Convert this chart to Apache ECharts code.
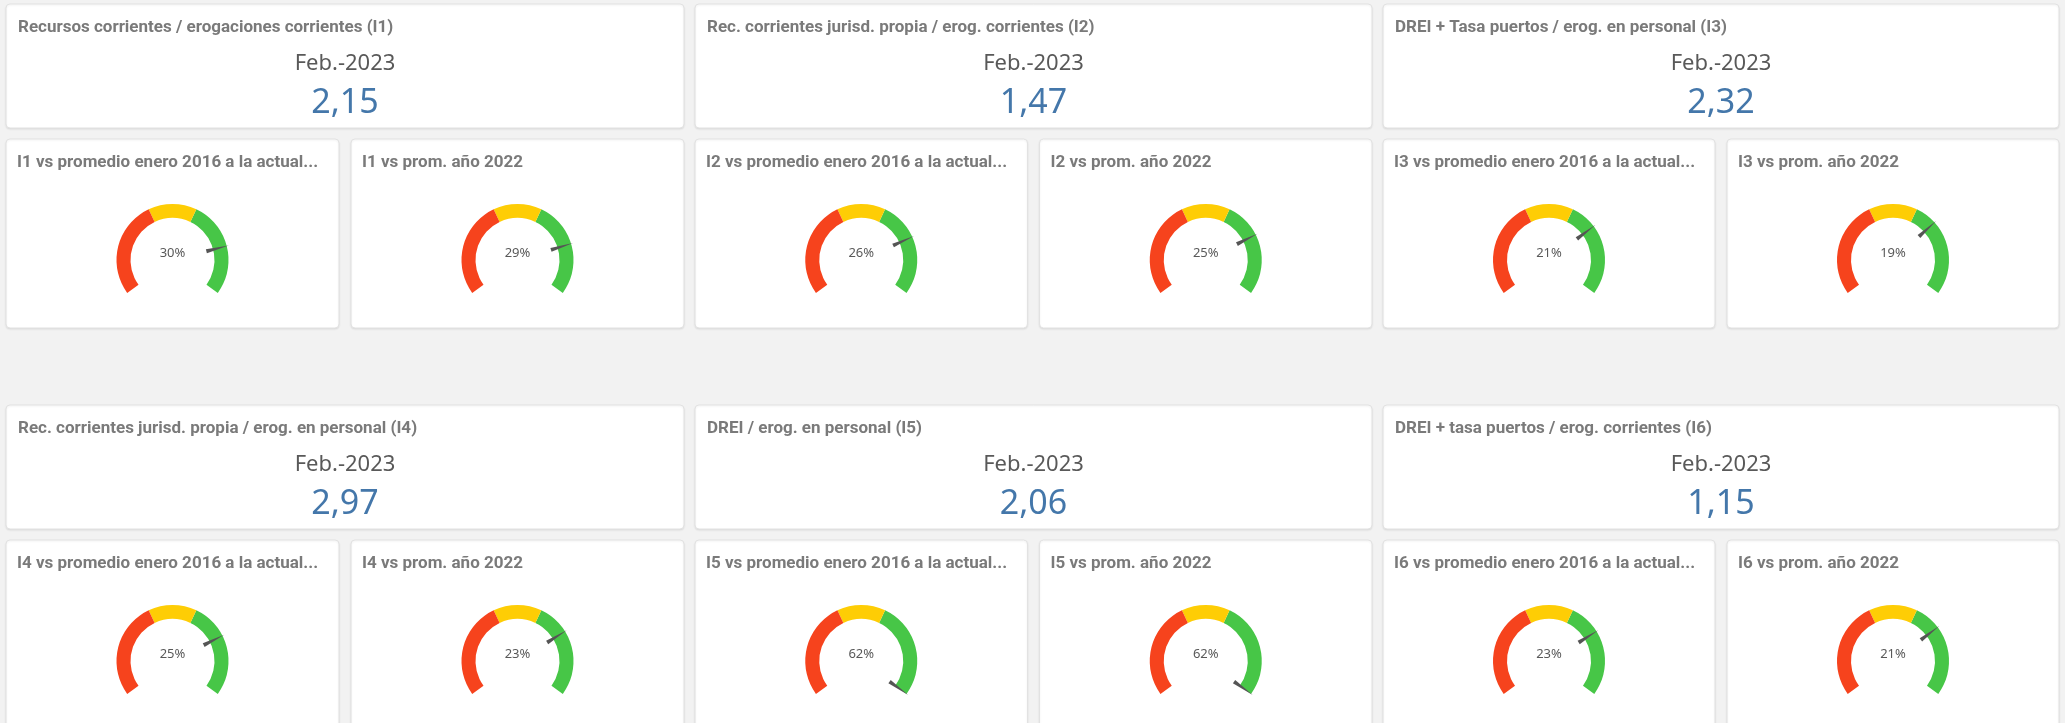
<!DOCTYPE html>
<html>
<head>
<meta charset="utf-8">
<script src="https://cdn.jsdelivr.net/npm/echarts@6/dist/echarts.min.js"></script>
<style>
  html, body { margin: 0; padding: 0; background: #f2f2f2; }
  #main { width: 2065px; height: 723px; }
</style>
</head>
<body>
<div id="main"></div>
<script>
    // indicadores (KPI)
    const kpiTitles = [
        'Recursos corrientes / erogaciones corrientes (I1)',
        'Rec. corrientes jurisd. propia / erog. corrientes (I2)',
        'DREI + Tasa puertos / erog. en personal (I3)',
        'Rec. corrientes jurisd. propia / erog. en personal (I4)',
        'DREI / erog. en personal (I5)',
        'DREI + tasa puertos / erog. corrientes (I6)'
    ];
    const kpiPeriod = 'Feb.-2023';
    const kpiValues = [2.15, 1.47, 2.32, 2.97, 2.06, 1.15];

    // velocimetros
    const gaugeTitlesHist = [
        'I1 vs promedio enero 2016 a la actual...',
        'I2 vs promedio enero 2016 a la actual...',
        'I3 vs promedio enero 2016 a la actual...',
        'I4 vs promedio enero 2016 a la actual...',
        'I5 vs promedio enero 2016 a la actual...',
        'I6 vs promedio enero 2016 a la actual...'
    ];
    const gaugeTitles2022 = [
        'I1 vs prom. año 2022',
        'I2 vs prom. año 2022',
        'I3 vs prom. año 2022',
        'I4 vs prom. año 2022',
        'I5 vs prom. año 2022',
        'I6 vs prom. año 2022'
    ];
    const vsHistorico = [0.30, 0.26, 0.21, 0.25, 0.62, 0.23];
    const vsAnio2022 = [0.29, 0.25, 0.19, 0.23, 0.62, 0.21];
    const gaugeMin = -0.5;
    const gaugeMax = 0.5;
    const bandLimits = [0.4, 0.6]; // rojo | amarillo | verde

    const RED = '#f6431d';
    const YELLOW = '#fecd05';
    const GREEN = '#47c647';

    var myChart = echarts.init(document.getElementById('main'));

    // grilla del tablero
    const cols = [[6, 684], [695, 1372], [1383, 2059]];
    const rowTops = [4, 405];
    const kpiH = 124;
    const gaugeGap = 11;
    const gaugeH = 189;

    const titleFont = 'bold 17px Roboto';
    const titleColor = '#7a7a7a';

    let graphics = [];
    let series = [];

    const panel = (x, y, w, h) => ({
        type: 'rect',
        shape: { x: x, y: y, width: w, height: h, r: 4 },
        style: {
            fill: '#ffffff',
            stroke: '#e2e2e2',
            lineWidth: 1,
            shadowBlur: 2,
            shadowOffsetY: 1,
            shadowColor: 'rgba(0,0,0,0.08)'
        },
        silent: true
    });

    const text = (x, y, str, font, color, align) => ({
        type: 'text',
        x: x,
        y: y,
        style: {
            text: str,
            font: font,
            fill: color,
            textAlign: align || 'left',
            textVerticalAlign: 'middle'
        },
        silent: true
    });

    const gauge = (cx, cy, value) => ({
        type: 'gauge',
        center: [cx, cy],
        radius: 56,
        startAngle: 216,
        endAngle: -36,
        min: gaugeMin,
        max: gaugeMax,
        animation: false,
        axisLine: {
            lineStyle: {
                width: 14,
                color: [[bandLimits[0], RED], [bandLimits[1], YELLOW], [1, GREEN]]
            }
        },
        splitLine: { show: false },
        axisTick: { show: false },
        axisLabel: { show: false },
        anchor: { show: false },
        title: { show: false },
        pointer: {
            icon: 'path://M2,0 L4,20 L0,20 Z',
            length: 23,
            width: 4,
            offsetCenter: [0, -35],
            itemStyle: { color: '#555555' }
        },
        detail: {
            offsetCenter: [0, -7],
            fontSize: 13,
            fontFamily: 'Noto Sans',
            fontWeight: 'normal',
            color: '#595959',
            formatter: function (v) { return Math.round(v * 100) + '%'; }
        },
        data: [{ value: value }]
    });

    for (let i = 0; i < 6; i++) {
        let c = cols[i % 3];
        let top = rowTops[Math.floor(i / 3)];
        let w = c[1] - c[0];
        let cx = (c[0] + c[1]) / 2;

        // panel KPI
        graphics.push(panel(c[0], top, w, kpiH));
        graphics.push(text(c[0] + 12, top + 24, kpiTitles[i], titleFont, titleColor));
        graphics.push(text(cx, top + 60, kpiPeriod, '22px "Noto Sans"', '#595959', 'center'));
        graphics.push(text(cx, top + 99, kpiValues[i].toFixed(2).replace('.', ','), '34px "Noto Sans"', '#4477aa', 'center'));

        // paneles de velocimetros
        let gTop = top + kpiH + gaugeGap;
        let half = (w - 12) / 2;
        let xs = [c[0], c[0] + half + 12];
        let ttl = [gaugeTitlesHist[i], gaugeTitles2022[i]];
        let vals = [vsHistorico[i], vsAnio2022[i]];
        for (let k = 0; k < 2; k++) {
            graphics.push(panel(xs[k], gTop, half, gaugeH));
            graphics.push(text(xs[k] + 11, gTop + 24, ttl[k], titleFont, titleColor));
            series.push(gauge(xs[k] + half / 2, gTop + 121, vals[k]));
        }
    }

    let option = {
        backgroundColor: '#f2f2f2',
        graphic: { elements: graphics },
        series: series
    };

    myChart.setOption(option);
</script>
</body>
</html>
